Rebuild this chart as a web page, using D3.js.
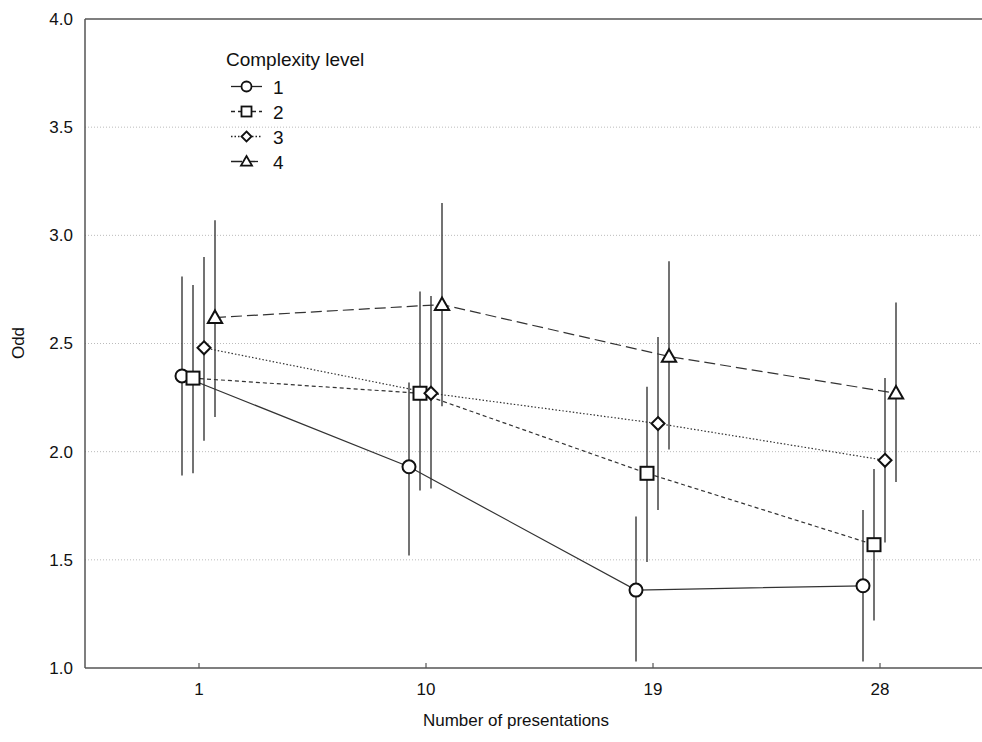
<!DOCTYPE html>
<html>
<head>
<meta charset="utf-8">
<script src="https://cdn.jsdelivr.net/npm/d3@7"></script>
<style>
  body { margin: 0; background: #fff; }
  text { font-family: "Liberation Sans", Arial, sans-serif; fill: #111; }
</style>
</head>
<body>
<script>
// categories on the x axis
var categories = ["1", "10", "19", "28"];
var levels = ["1", "2", "3", "4"];

// means and error bar ends for each complexity level
var mean1 = [2.35, 1.93, 1.36, 1.38];
var low1  = [1.89, 1.52, 1.03, 1.03];
var high1 = [2.81, 2.32, 1.70, 1.73];

var mean2 = [2.34, 2.27, 1.90, 1.57];
var low2  = [1.90, 1.82, 1.49, 1.22];
var high2 = [2.77, 2.74, 2.30, 1.92];

var mean3 = [2.48, 2.27, 2.13, 1.96];
var low3  = [2.05, 1.83, 1.73, 1.58];
var high3 = [2.90, 2.72, 2.53, 2.34];

var mean4 = [2.62, 2.68, 2.44, 2.27];
var low4  = [2.16, 2.21, 2.01, 1.86];
var high4 = [3.07, 3.15, 2.88, 2.69];

var yTicks = [1.0, 1.5, 2.0, 2.5, 3.0, 3.5, 4.0];

var series = [
  {name: levels[0], mean: mean1, low: low1, high: high1, dash: null, shape: "circle"},
  {name: levels[1], mean: mean2, low: low2, high: high2, dash: "4,3", shape: "square"},
  {name: levels[2], mean: mean3, low: low3, high: high3, dash: "1.5,2", shape: "diamond"},
  {name: levels[3], mean: mean4, low: low4, high: high4, dash: "11,5", shape: "triangle"}
];

var width = 982, height = 742;
var margin = {top: 19, left: 85, bottom: 74};
var plotBottom = height - margin.bottom;
var fontFam = '"Liberation Sans", Arial, sans-serif';

var svg = d3.select("body").append("svg")
  .attr("width", width)
  .attr("height", height);

var x = d3.scalePoint()
  .domain(categories)
  .range([margin.left, margin.left + 4 * 227])
  .padding(0.5);

// small shift of each level inside a category
var shift = d3.scalePoint()
  .domain(levels)
  .range([-16.5, 16.5]);

var y = d3.scaleLinear()
  .domain([1, 4])
  .range([plotBottom, margin.top]);

// grid lines
svg.append("g")
  .selectAll("line")
  .data(yTicks.filter(function(d) { return d > 1 && d < 4; }))
  .enter().append("line")
    .attr("x1", margin.left)
    .attr("x2", width)
    .attr("y1", function(d) { return y(d); })
    .attr("y2", function(d) { return y(d); })
    .attr("stroke", "#bbb")
    .attr("stroke-width", 1)
    .attr("stroke-dasharray", "1,2");

// frame
var frameColor = "#555";
svg.append("line").attr("x1", margin.left).attr("x2", margin.left)
  .attr("y1", margin.top).attr("y2", plotBottom)
  .attr("stroke", frameColor).attr("stroke-width", 1.5);
svg.append("line").attr("x1", margin.left).attr("x2", width)
  .attr("y1", margin.top).attr("y2", margin.top)
  .attr("stroke", frameColor).attr("stroke-width", 1.5);

// x axis
var xAxis = d3.axisBottom(x).tickSize(0).tickPadding(15);
var gx = svg.append("g")
  .attr("transform", "translate(0," + plotBottom + ")")
  .call(xAxis);
gx.attr("font-size", null).attr("font-family", null);
gx.select(".domain").attr("stroke", frameColor).attr("stroke-width", 1.5)
  .attr("d", "M" + margin.left + ",0H" + width);
gx.selectAll(".tick text").style("font-size", "17px").attr("fill", "#111")
  .style("font-family", fontFam);
gx.selectAll(".tick").append("line")
  .attr("y1", 0).attr("y2", -5)
  .attr("stroke", frameColor).attr("stroke-width", 1.2);

// y axis
var yAxis = d3.axisLeft(y).tickValues(yTicks).tickSize(0).tickPadding(12)
  .tickFormat(d3.format(".1f"));
var gy = svg.append("g")
  .attr("transform", "translate(" + margin.left + ",0)")
  .call(yAxis);
gy.attr("font-size", null).attr("font-family", null);
gy.select(".domain").remove();
gy.selectAll(".tick text").style("font-size", "17px").attr("fill", "#111")
  .style("font-family", fontFam);

// axis titles
svg.append("text")
  .attr("x", 516).attr("y", 726)
  .attr("text-anchor", "middle")
  .style("font-size", "17px")
  .text("Number of presentations");

svg.append("text")
  .attr("transform", "translate(24,343) rotate(-90)")
  .attr("text-anchor", "middle")
  .style("font-size", "17px")
  .text("Odd");

function px(s, i) { return x(categories[i]) + shift(s.name); }

function drawMarker(g, shape, cx, cy, size) {
  if (shape === "circle") {
    g.append("circle").attr("cx", cx).attr("cy", cy).attr("r", size * 0.5);
  } else if (shape === "square") {
    var h = size * 0.5;
    g.append("rect").attr("x", cx - h).attr("y", cy - h)
      .attr("width", size).attr("height", size);
  } else if (shape === "diamond") {
    var d = size * 0.5;
    g.append("path").attr("d", "M" + cx + "," + (cy - d) + "L" + (cx + d) + "," + cy +
      "L" + cx + "," + (cy + d) + "L" + (cx - d) + "," + cy + "Z");
  } else {
    var t = size * 0.55;
    g.append("path").attr("d", "M" + cx + "," + (cy - t) + "L" + (cx + t) + "," + (cy + t * 0.75) +
      "L" + (cx - t) + "," + (cy + t * 0.75) + "Z");
  }
}

var plot = svg.append("g");

// error bars
series.forEach(function(s) {
  plot.append("g").selectAll("line")
    .data(s.mean)
    .enter().append("line")
      .attr("x1", function(d, i) { return px(s, i); })
      .attr("x2", function(d, i) { return px(s, i); })
      .attr("y1", function(d, i) { return y(s.low[i]); })
      .attr("y2", function(d, i) { return y(s.high[i]); })
      .attr("stroke", "#444")
      .attr("stroke-width", 1.5);
});

// lines
var line = d3.line();
series.forEach(function(s) {
  plot.append("path")
    .attr("d", line(s.mean.map(function(d, i) { return [px(s, i), y(d)]; })))
    .attr("fill", "none")
    .attr("stroke", "#333")
    .attr("stroke-width", 1.2)
    .attr("stroke-dasharray", s.dash);
});

// markers
var sizes = {circle: 13, square: 13, diamond: 13, triangle: 13};
series.forEach(function(s) {
  var g = plot.append("g").attr("fill", "#fff").attr("stroke", "#111").attr("stroke-width", 2);
  s.mean.forEach(function(d, i) {
    drawMarker(g, s.shape, px(s, i), y(d), sizes[s.shape]);
  });
});

// legend
var legend = svg.append("g");
legend.append("text")
  .attr("x", 226).attr("y", 66)
  .style("font-size", "19px")
  .text("Complexity level");

series.forEach(function(s, i) {
  var ly = 86.5 + i * 25;
  legend.append("line")
    .attr("x1", 231).attr("x2", 262)
    .attr("y1", ly).attr("y2", ly)
    .attr("stroke", "#222").attr("stroke-width", 1.3)
    .attr("stroke-dasharray", s.dash);
  var g = legend.append("g").attr("fill", "#fff").attr("stroke", "#111").attr("stroke-width", 1.8);
  drawMarker(g, s.shape, 246.5, ly, 10);
  legend.append("text")
    .attr("x", 273).attr("y", ly + 7)
    .style("font-size", "19px")
    .text(s.name);
});
</script>
</body>
</html>
